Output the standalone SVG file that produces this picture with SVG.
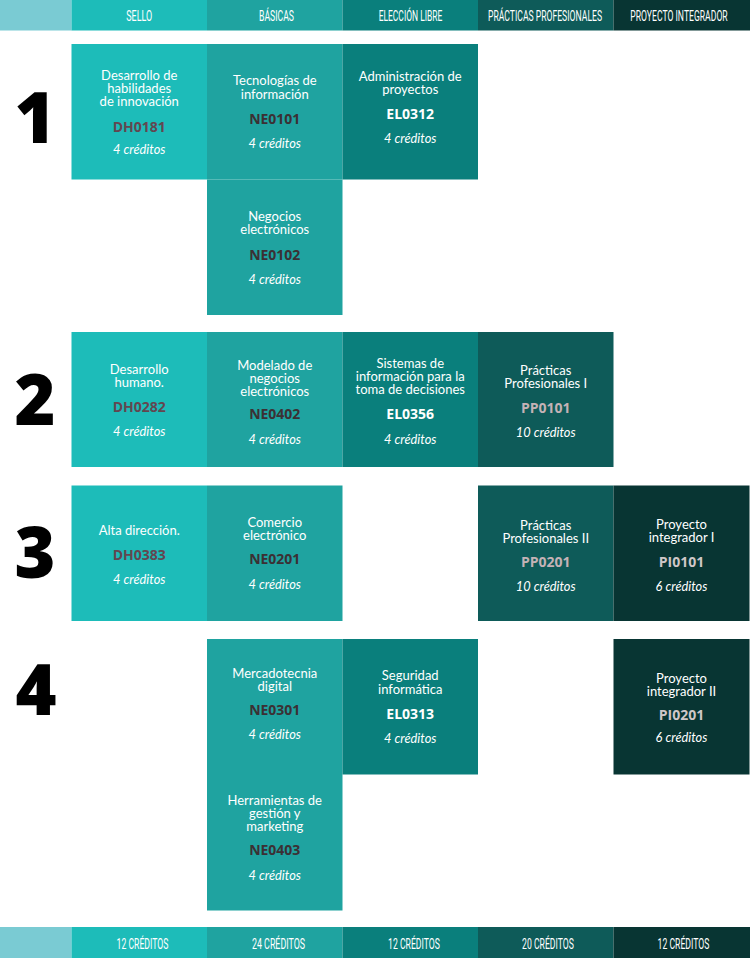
<svg xmlns="http://www.w3.org/2000/svg" width="750" height="958" viewBox="0 0 750 958">
<style>
.t{font-family:"Lato","Open Sans","Liberation Sans",sans-serif;font-size:13px;fill:#ffffff;text-anchor:middle}
.c{font-family:"Open Sans","DejaVu Sans","Liberation Sans",sans-serif;font-size:14px;font-weight:700;text-anchor:middle}
.k{font-family:"Lato","Open Sans","Liberation Sans",sans-serif;font-size:12.8px;font-style:italic;fill:#ffffff;text-anchor:middle}
.h{font-family:"Roboto","Liberation Sans",sans-serif;font-size:14px;fill:#ffffff;text-anchor:middle}
.n{font-family:"Open Sans","DejaVu Sans",sans-serif;font-size:70px;font-weight:800;fill:#000000;text-anchor:middle}
.cs{fill:#1dbcb9}.cb{fill:#1fa3a0}.ce{fill:#0a7f7c}.cp{fill:#0e5b59}.ci{fill:#083533}.cl{fill:#7acbd3}
.ks{fill:#634650}.kb{fill:#3b3034}.ke{fill:#ffffff}.kp{fill:#c4b2b6}.ki{fill:#cfc7c8}
</style>
<rect width="750" height="958" fill="#ffffff"/>
<g id="header">
<rect class="cl" x="0" y="0" width="71.5" height="30.5"/>
<rect class="cs" x="71.5" y="0" width="135.5" height="30.5"/>
<rect class="cb" x="207" y="0" width="135.5" height="30.5"/>
<rect class="ce" x="342.5" y="0" width="135.5" height="30.5"/>
<rect class="cp" x="478" y="0" width="135.5" height="30.5"/>
<rect class="ci" x="613.5" y="0" width="136.5" height="30.5"/>
<text class="h" transform="translate(139.25,21) scale(0.7,1)" textLength="37" lengthAdjust="spacingAndGlyphs">SELLO</text>
<text class="h" transform="translate(276.5,21) scale(0.7,1)" textLength="50" lengthAdjust="spacingAndGlyphs">BÁSICAS</text>
<text class="h" transform="translate(410.5,21) scale(0.7,1)" textLength="91" lengthAdjust="spacingAndGlyphs">ELECCIÓN LIBRE</text>
<text class="h" transform="translate(545,21) scale(0.7,1)" textLength="163" lengthAdjust="spacingAndGlyphs">PRÁCTICAS PROFESIONALES</text>
<text class="h" transform="translate(679,21) scale(0.7,1)" textLength="139" lengthAdjust="spacingAndGlyphs">PROYECTO INTEGRADOR</text>
</g>
<g id="semesters">
<text class="n" x="35" y="143">1</text>
<text class="n" x="35" y="425">2</text>
<text class="n" x="35" y="578">3</text>
<text class="n" x="36" y="715">4</text>
</g>
<g id="connectors"></g>
<g id="DH0181"><rect class="cs" x="71.5" y="44" width="135.5" height="135.5"/>
<text class="t"><tspan x="139.25" y="80">Desarrollo de</tspan><tspan x="139.25" y="93">habilidades</tspan><tspan x="139.25" y="106">de innovación</tspan></text>
<text class="c ks" x="139.25" y="131.5">DH0181</text><text class="k" x="139.25" y="154">4 créditos</text></g>
<g id="NE0101"><rect class="cb" x="207" y="44" width="135.5" height="135.5"/>
<text class="t"><tspan x="274.75" y="85">Tecnologías de</tspan><tspan x="274.75" y="98.5">información</tspan></text>
<text class="c kb" x="274.75" y="124">NE0101</text><text class="k" x="274.75" y="148">4 créditos</text></g>
<g id="EL0312"><rect class="ce" x="342.5" y="44" width="135.5" height="135.5"/>
<text class="t"><tspan x="410.25" y="81">Administración de</tspan><tspan x="410.25" y="94">proyectos</tspan></text>
<text class="c ke" x="410.25" y="119">EL0312</text><text class="k" x="410.25" y="143">4 créditos</text></g>
<g id="NE0102"><rect class="cb" x="207" y="179.5" width="135.5" height="135.5"/>
<text class="t"><tspan x="274.75" y="221">Negocios</tspan><tspan x="274.75" y="234">electrónicos</tspan></text>
<text class="c kb" x="274.75" y="259.5">NE0102</text><text class="k" x="274.75" y="284">4 créditos</text></g>
<g id="DH0282"><rect class="cs" x="71.5" y="332" width="135.5" height="135"/>
<text class="t"><tspan x="139.25" y="374">Desarrollo</tspan><tspan x="139.25" y="387">humano.</tspan></text>
<text class="c ks" x="139.25" y="412">DH0282</text><text class="k" x="139.25" y="436">4 créditos</text></g>
<g id="NE0402"><rect class="cb" x="207" y="332" width="135.5" height="135"/>
<text class="t"><tspan x="274.75" y="370">Modelado de</tspan><tspan x="274.75" y="383">negocios</tspan><tspan x="274.75" y="396">electrónicos</tspan></text>
<text class="c kb" x="274.75" y="419">NE0402</text><text class="k" x="274.75" y="444">4 créditos</text></g>
<g id="EL0356"><rect class="ce" x="342.5" y="332" width="135.5" height="135"/>
<text class="t"><tspan x="410.25" y="368">Sistemas de</tspan><tspan x="410.25" y="381">información para la</tspan><tspan x="410.25" y="394">toma de decisiones</tspan></text>
<text class="c ke" x="410.25" y="419">EL0356</text><text class="k" x="410.25" y="443.5">4 créditos</text></g>
<g id="PP0101"><rect class="cp" x="478" y="332" width="135.5" height="135"/>
<text class="t"><tspan x="545.75" y="375">Prácticas</tspan><tspan x="545.75" y="388">Profesionales I</tspan></text>
<text class="c kp" x="545.75" y="412.5">PP0101</text><text class="k" x="545.75" y="437">10 créditos</text></g>
<g id="DH0383"><rect class="cs" x="71.5" y="485.5" width="135.5" height="135.5"/>
<text class="t" x="139.25" y="535">Alta dirección.</text>
<text class="c ks" x="139.25" y="560">DH0383</text><text class="k" x="139.25" y="584">4 créditos</text></g>
<g id="NE0201"><rect class="cb" x="207" y="485.5" width="135.5" height="135.5"/>
<text class="t"><tspan x="274.75" y="527">Comercio</tspan><tspan x="274.75" y="540">electrónico</tspan></text>
<text class="c kb" x="274.75" y="564">NE0201</text><text class="k" x="274.75" y="589">4 créditos</text></g>
<g id="PP0201"><rect class="cp" x="478" y="485.5" width="135.5" height="135.5"/>
<text class="t"><tspan x="545.75" y="530">Prácticas</tspan><tspan x="545.75" y="543">Profesionales II</tspan></text>
<text class="c kp" x="545.75" y="567">PP0201</text><text class="k" x="545.75" y="591">10 créditos</text></g>
<g id="PI0101"><rect class="ci" x="613.5" y="485.5" width="136" height="135.5"/>
<text class="t"><tspan x="681.5" y="529">Proyecto</tspan><tspan x="681.5" y="542">integrador I</tspan></text>
<text class="c ki" x="681.5" y="567">PI0101</text><text class="k" x="681.5" y="591">6 créditos</text></g>
<g id="NE0301"><rect class="cb" x="207" y="639" width="135.5" height="136"/>
<text class="t"><tspan x="274.75" y="678">Mercadotecnia</tspan><tspan x="274.75" y="691">digital</tspan></text>
<text class="c kb" x="274.75" y="715">NE0301</text><text class="k" x="274.75" y="739">4 créditos</text></g>
<g id="EL0313"><rect class="ce" x="342.5" y="639" width="135.5" height="135.5"/>
<text class="t"><tspan x="410.25" y="680">Seguridad</tspan><tspan x="410.25" y="694">informática</tspan></text>
<text class="c ke" x="410.25" y="719">EL0313</text><text class="k" x="410.25" y="743">4 créditos</text></g>
<g id="PI0201"><rect class="ci" x="613.5" y="639" width="136" height="135.5"/>
<text class="t"><tspan x="681.5" y="683">Proyecto</tspan><tspan x="681.5" y="696">integrador II</tspan></text>
<text class="c ki" x="681.5" y="720">PI0201</text><text class="k" x="681.5" y="742">6 créditos</text></g>
<g id="NE0403"><rect class="cb" x="207" y="775" width="135.5" height="135.5"/>
<text class="t"><tspan x="274.75" y="805">Herramientas de</tspan><tspan x="274.75" y="818">gestión y</tspan><tspan x="274.75" y="831">marketing</tspan></text>
<text class="c kb" x="274.75" y="855">NE0403</text><text class="k" x="274.75" y="880">4 créditos</text></g>
<g id="footer">
<rect class="cl" x="0" y="927" width="71.5" height="31"/>
<rect class="cs" x="71.5" y="927" width="135.5" height="31"/>
<rect class="cb" x="207" y="927" width="135.5" height="31"/>
<rect class="ce" x="342.5" y="927" width="135.5" height="31"/>
<rect class="cp" x="478" y="927" width="135.5" height="31"/>
<rect class="ci" x="613.5" y="927" width="136.5" height="31"/>
<text class="h" transform="translate(142.5,949) scale(0.7,1)" textLength="74" lengthAdjust="spacingAndGlyphs">12 CRÉDITOS</text>
<text class="h" transform="translate(278.5,949) scale(0.7,1)" textLength="76" lengthAdjust="spacingAndGlyphs">24 CRÉDITOS</text>
<text class="h" transform="translate(414,949) scale(0.7,1)" textLength="74" lengthAdjust="spacingAndGlyphs">12 CRÉDITOS</text>
<text class="h" transform="translate(548,949) scale(0.7,1)" textLength="74" lengthAdjust="spacingAndGlyphs">20 CRÉDITOS</text>
<text class="h" transform="translate(683.5,949) scale(0.7,1)" textLength="74" lengthAdjust="spacingAndGlyphs">12 CRÉDITOS</text>
</g>
</svg>
